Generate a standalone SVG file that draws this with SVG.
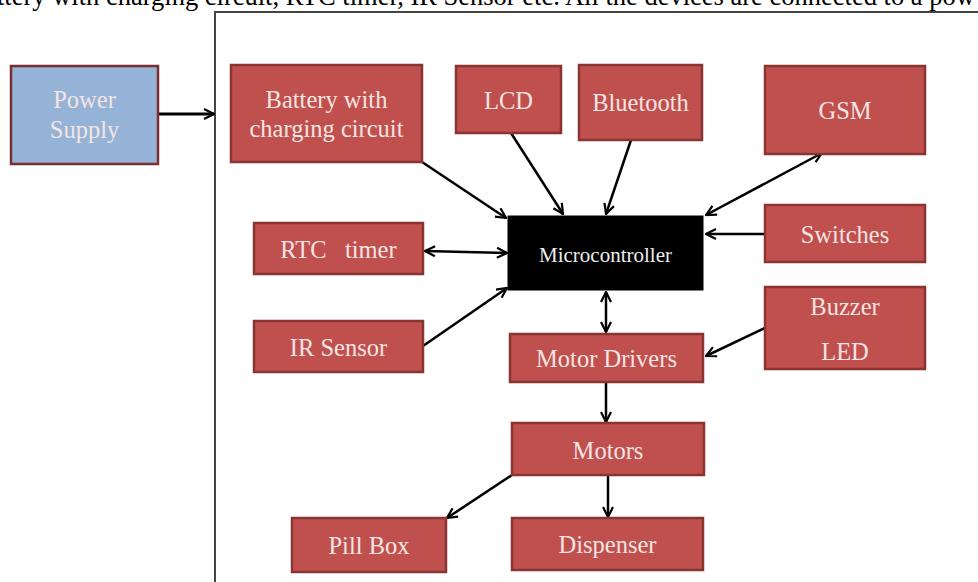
<svg xmlns="http://www.w3.org/2000/svg" width="978" height="582" viewBox="0 0 978 582">
<style>
.box{fill:#C0504D;stroke:#8A3533;stroke-width:2.5}
.blue{fill:#95B3D7;stroke:#7A2E2E;stroke-width:2.5}
.mc{fill:#000;stroke:#000;stroke-width:1}
.t{font-family:"Liberation Serif","Times New Roman",serif;font-size:24.5px;fill:#F4E4E3;text-anchor:middle}
.tm{font-family:"Liberation Serif","Times New Roman",serif;font-size:21px;fill:#EDEDED;text-anchor:middle}
.c{stroke:#000;stroke-width:2.5;fill:none;marker-end:url(#ah)}
.cb{stroke:#000;stroke-width:2.5;fill:none;marker-end:url(#ah);marker-start:url(#ahs)}
.cap{font-family:"Liberation Serif","Times New Roman",serif;font-size:26.5px;fill:#000}
</style>
<defs>
<marker id="ah" viewBox="0 0 12 12" refX="11" refY="6" markerWidth="12" markerHeight="12" markerUnits="userSpaceOnUse" orient="auto">
<path d="M1,1 L11,6 L1,11" fill="none" stroke="#000" stroke-width="2.2"/>
</marker>
<marker id="ahs" viewBox="0 0 12 12" refX="1" refY="6" markerWidth="12" markerHeight="12" markerUnits="userSpaceOnUse" orient="auto">
<path d="M11,1 L1,6 L11,11" fill="none" stroke="#000" stroke-width="2.2"/>
</marker>
</defs>
<rect width="978" height="582" fill="#fff"/>
<text class="cap" x="-3" y="5">ttery with charging circuit, RTC timer, IR Sensor etc. All the devices are connected to a pow</text>
<path d="M215,582 L215,12 L978,12" fill="none" stroke="#444" stroke-width="2"/>

<g id="connectors">
<path class="c" d="M158,114 L214,114" style="stroke-width:3"/>
<path class="c" d="M422,162 L506,218"/>
<path class="c" d="M511,133 L563,214"/>
<path class="c" d="M631,140 L606,214"/>
<path class="cb" d="M706,215 L822,153"/>
<path class="c" d="M765,234 L706,234"/>
<path class="cb" d="M425,251 L507,253"/>
<path class="c" d="M423,346 L507,288"/>
<path class="cb" d="M606,292 L606,332"/>
<path class="c" d="M765,328 L706,356"/>
<path class="c" d="M606,382 L606,422"/>
<path class="c" d="M512,475 L447,518"/>
<path class="c" d="M608,475 L608,517"/>
</g>

<g id="power"><rect class="blue" x="11" y="66" width="147" height="98"/><text class="t" x="84.5" y="108">Power</text><text class="t" x="84.5" y="138">Supply</text></g>
<g id="battery"><rect class="box" x="231" y="65" width="191" height="97"/><text class="t" x="326.5" y="108">Battery with</text><text class="t" x="326.5" y="137">charging circuit</text></g>
<g id="lcd"><rect class="box" x="456" y="66" width="105" height="67"/><text class="t" x="508.5" y="109">LCD</text></g>
<g id="bluetooth"><rect class="box" x="579" y="65" width="123" height="75"/><text class="t" x="640.5" y="111">Bluetooth</text></g>
<g id="gsm"><rect class="box" x="765" y="66" width="160" height="88"/><text class="t" x="845" y="119">GSM</text></g>
<g id="micro"><rect class="mc" x="508" y="216" width="195" height="74"/><text class="tm" x="605.5" y="262">Microcontroller</text></g>
<g id="switches"><rect class="box" x="765" y="205" width="160" height="57"/><text class="t" x="845" y="243">Switches</text></g>
<g id="rtc"><rect class="box" x="254" y="223" width="169" height="51"/><text class="t" x="338.5" y="258" xml:space="preserve">RTC   timer</text></g>
<g id="ir"><rect class="box" x="254" y="321" width="169" height="51"/><text class="t" x="338.5" y="356">IR Sensor</text></g>
<g id="buzzer"><rect class="box" x="765" y="287" width="160" height="82"/><text class="t" x="845" y="315">Buzzer</text><text class="t" x="845" y="360">LED</text></g>
<g id="drivers"><rect class="box" x="510" y="334" width="193" height="48"/><text class="t" x="606.5" y="367">Motor Drivers</text></g>
<g id="motors"><rect class="box" x="512" y="423" width="192" height="52"/><text class="t" x="608" y="459">Motors</text></g>
<g id="pillbox"><rect class="box" x="292" y="518" width="154" height="54"/><text class="t" x="369" y="554">Pill Box</text></g>
<g id="dispenser"><rect class="box" x="512" y="518" width="191" height="52"/><text class="t" x="607.5" y="553">Dispenser</text></g>
</svg>
